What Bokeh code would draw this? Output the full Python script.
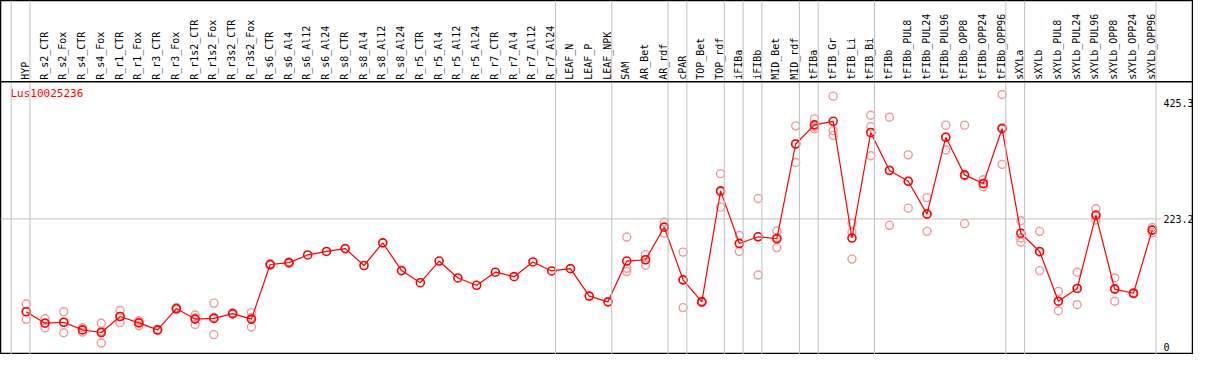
import math
from bokeh.plotting import figure
from bokeh.models import ColumnDataSource, Span, Range1d
from bokeh.core.properties import value
from bokeh.embed import file_html
from bokeh.resources import INLINE

title = "Lus10025236"

categories = [
    "HYP", "R_s2_CTR", "R_s2_Fox", "R_s4_CTR", "R_s4_Fox", "R_r1_CTR", "R_r1_Fox",
    "R_r3_CTR", "R_r3_Fox", "R_r1s2_CTR", "R_r1s2_Fox", "R_r3s2_CTR", "R_r3s2_Fox",
    "R_s6_CTR", "R_s6_Al4", "R_s6_Al12", "R_s6_Al24", "R_s8_CTR", "R_s8_Al4",
    "R_s8_Al12", "R_s8_Al24", "R_r5_CTR", "R_r5_Al4", "R_r5_Al12", "R_r5_Al24",
    "R_r7_CTR", "R_r7_Al4", "R_r7_Al12", "R_r7_Al24", "LEAF_N", "LEAF_P", "LEAF_NPK",
    "SAM", "AR_Bet", "AR_rdf", "cPAR", "TOP_Bet", "TOP_rdf", "iFIBa", "iFIBb",
    "MID_Bet", "MID_rdf", "tFIBa", "tFIB_Gr", "tFIB_Li", "tFIB_Bi", "tFIBb",
    "tFIBb_PUL8", "tFIBb_PUL24", "tFIBb_PUL96", "tFIBb_OPP8", "tFIBb_OPP24",
    "tFIBb_OPP96", "sXYLa", "sXYLb", "sXYLb_PUL8", "sXYLb_PUL24", "sXYLb_PUL96",
    "sXYLb_OPP8", "sXYLb_OPP24", "sXYLb_OPP96",
]

# last category of each group (a separator line follows it)
group_ends = ["HYP", "R_r7_Al24", "LEAF_NPK", "AR_rdf", "cPAR", "TOP_rdf", "iFIBa",
              "iFIBb", "MID_rdf", "tFIBa", "tFIB_Bi", "tFIBb_OPP96", "sXYLa", "sXYLb_OPP96"]

mean_values = [
    61.3, 41.2, 42.9, 29.5, 25.0, 52.9, 41.7, 29.5, 66.8, 48.4, 49.6, 57.9, 48.4,
    143.6, 146.9, 160.3, 166.4, 171.4, 141.9, 181.4, 133.0, 111.9, 149.7, 120.2, 107.4,
    130.2, 122.4, 148.1, 132.4, 136.4, 88.5, 78.5,
    149.7, 151.9, 208.7, 116.9, 78.5, 272.1, 180.3, 192.0, 188.6, 353.9, 387.3,
    393.5, 189.8, 374.0, 307.7, 288.8, 231.5, 365.6, 300.0, 285.0, 380.6,
    198.2, 166.4, 79.6, 101.8, 229.9, 100.7, 93.5, 203.7,
]

nan = float("nan")
rep_a = [
    74.6, 49.0, 61.3, 33.4, 41.2, 63.4, 45.6, 30.5, 68.5, 55.6, 76.3, 59.0, 59.6,
    145.0, 148.0, nan, nan, nan, nan, nan, nan, nan, nan, nan, nan,
    nan, nan, nan, nan, nan, nan, nan,
    191.5, 160.8, 217.6, 165.3, 79.5, 302.2, 194.2, 258.8, 202.0, 385.6, 397.8,
    437.4, 215.9, 404.0, 400.7, 335.0, 260.4, 386.8, 386.8, 291.6, 440.2,
    219.9, 201.5, 96.8, 130.2, 240.9, 120.2, 94.5, 208.2,
]
rep_b = [
    61.5, 41.8, 42.9, 29.5, 27.0, 53.0, 42.8, 29.5, 66.8, 50.6, 51.3, 57.9, 51.1,
    143.6, 146.9, nan, nan, nan, nan, nan, nan, nan, nan, nan, nan,
    nan, nan, nan, nan, nan, nan, nan,
    136.9, 152.0, 210.0, 117.0, 78.5, 270.4, 180.3, 192.0, 190.7, 354.4, 384.0,
    377.3, 199.8, 384.0, 308.0, 289.0, 232.0, 366.0, 298.0, 284.0, 383.0,
    189.8, 165.0, 79.0, 102.0, 228.0, 102.0, 93.5, 203.7,
]
rep_c = [
    47.9, 32.8, 24.5, 25.6, 6.7, 42.2, 36.7, 28.5, 65.0, 38.9, 21.2, 56.8, 34.5,
    142.0, 145.8, nan, nan, nan, nan, nan, nan, nan, nan, nan, nan,
    nan, nan, nan, nan, nan, nan, nan,
    131.3, 142.4, 198.2, 68.4, 77.5, 243.7, 166.4, 125.2, 173.1, 321.7, 380.1,
    368.9, 153.1, 333.4, 212.0, 242.0, 201.5, 343.4, 214.9, 279.3, 318.4,
    182.5, 133.0, 62.9, 73.5, 220.9, 79.6, 92.5, 199.2,
]

tick_values = [0, 223.2, 425.3]
tick_labels = ["0", "223.2", "425.3"]

n = len(categories)
xs = list(range(n))

p = figure(width=1193, height=354, output_backend="svg", toolbar_location=None,
           x_range=Range1d(-1.37, 62.2), y_range=Range1d(-13.4, 604.3),
           x_axis_location=None, y_axis_location=None, min_border=0,
           background_fill_color="white", border_fill_color="white")
p.grid.visible = False
p.outline_line_color = "black"
p.outline_line_width = 1.5

mono = value("DejaVu Sans Mono")

# group separators
for name in group_ends:
    p.add_layout(Span(location=categories.index(name) + 0.2, dimension="height",
                      line_color="#c0c0c0", line_width=1))
p.add_layout(Span(location=-1 + 0.2, dimension="height", line_color="#c0c0c0", line_width=1))

# header separator
p.add_layout(Span(location=462.4, dimension="width", line_color="black", line_width=1.5))

# horizontal grid line at middle tick
p.segment(x0=[-1.37], y0=[tick_values[1]], x1=[60.46], y1=[tick_values[1]],
          line_color="#c0c0c0", line_width=1)

# tick labels
p.text(x=[60.6] * len(tick_values), y=tick_values, text=tick_labels,
       text_font=mono, text_font_size="10px", text_color="black",
       text_align="left", text_baseline="middle")

# category labels in header
p.text(x=[x - 0.05 for x in xs], y=[465.8] * n, text=categories, angle=math.pi / 2,
       text_font=mono, text_font_size="10px", text_color="black",
       text_align="left", text_baseline="middle")

# title
p.text(x=[-0.84], y=[442.4], text=[title], text_font=mono, text_font_size="11px",
       text_color="red", text_align="left", text_baseline="middle")

# replicates
rx, ry = [], []
for reps in (rep_a, rep_b, rep_c):
    for x, v in zip(xs, reps):
        if not math.isnan(v):
            rx.append(x)
            ry.append(v)
p.scatter(x=rx, y=ry, marker="circle", size=8, fill_color=None,
          line_color="#ee9a9a", line_width=1.4)

src = ColumnDataSource(dict(x=xs, y=mean_values))
p.line("x", "y", source=src, line_color="red", line_width=1.2)
p.scatter("x", "y", source=src, marker="circle", size=8, fill_color=None,
          line_color="red", line_width=1.6)

open("out.html", "w").write(file_html(p, INLINE))
